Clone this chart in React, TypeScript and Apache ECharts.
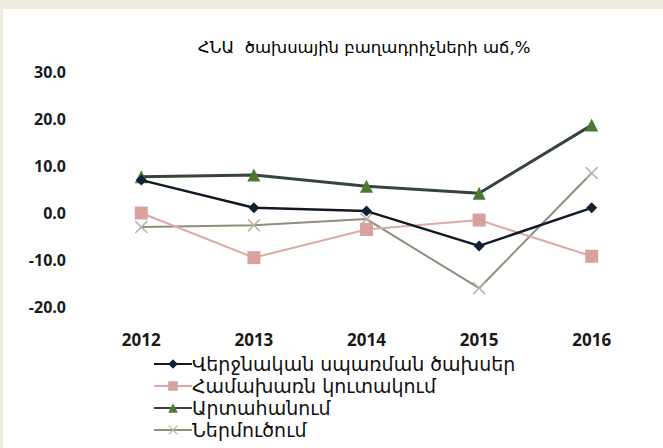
import React, { useEffect, useRef } from "react";
import * as echarts from "echarts";

const years = ["2012", "2013", "2014", "2015", "2016"];
const finalConsumption = [7.0, 1.1, 0.4, -7.0, 1.1];
const grossCapital = [0.0, -9.5, -3.5, -1.5, -9.2];
const exportsGrowth = [7.7, 8.1, 5.7, 4.2, 18.7];
const importsGrowth = [-3.0, -2.6, -1.3, -16.0, 8.5];
const seriesNames = [
  "Վերջնական սպառման ծախսեր",
  "Համախառն կուտակում",
  "Արտահանում",
  "Ներմուծում",
];
const titleText = "ՀՆԱ  ծախսային բաղադրիչների աճ,%";

const xPath =
  "path://M1,0 L6,5 L11,0 L12,1 L7,6 L12,11 L11,12 L6,7 L1,12 L0,11 L5,6 L0,1 Z";

export default function App() {
  const ref = useRef<HTMLDivElement>(null);
  useEffect(() => {
    if (!ref.current) return;
    const chart = echarts.init(ref.current, undefined, { renderer: "svg" });
    chart.setOption({
      animation: false,
      backgroundColor: "#ffffff",
      title: {
        text: titleText,
        left: 356,
        top: 25,
        textAlign: "center",
        textStyle: {
          fontFamily: "DejaVu Sans",
          fontSize: 16.5,
          fontWeight: "normal",
          color: "#000",
        },
      },
      grid: { left: 82, right: 15, top: 63, height: 235, containLabel: false },
      xAxis: {
        type: "category",
        data: years,
        boundaryGap: true,
        axisLine: { show: false },
        axisTick: { show: false },
        axisLabel: {
          margin: 24,
          fontFamily: "Open Sans",
          fontWeight: "bold",
          fontSize: 17,
          color: "#1a1a1a",
        },
      },
      yAxis: {
        type: "value",
        min: -20,
        max: 30,
        interval: 10,
        splitLine: { show: false },
        axisLine: { show: false },
        axisTick: { show: false },
        axisLabel: {
          margin: 19,
          fontFamily: "Open Sans",
          fontWeight: "bold",
          fontSize: 16,
          color: "#1a1a1a",
          formatter: (v: number) => v.toFixed(1),
        },
      },
      legend: {
        orient: "vertical",
        left: 145,
        top: 339,
        itemWidth: 38,
        itemHeight: 12,
        itemGap: 0,
        textStyle: {
          fontFamily: "DejaVu Sans",
          fontSize: 19,
          lineHeight: 22,
          color: "#111",
          padding: [0, 0, 0, -5],
        },
        data: seriesNames,
      },
      series: [
        {
          name: seriesNames[0],
          type: "line",
          data: finalConsumption,
          symbol: "diamond",
          symbolSize: 11,
          lineStyle: { color: "#111a24", width: 2.5 },
          itemStyle: { color: "#0f2235" },
          z: 4,
        },
        {
          name: seriesNames[1],
          type: "line",
          data: grossCapital,
          symbol: "rect",
          symbolSize: 13,
          lineStyle: { color: "#dcaaa6", width: 2 },
          itemStyle: { color: "#d9a19c" },
          z: 2,
        },
        {
          name: seriesNames[2],
          type: "line",
          data: exportsGrowth,
          symbol: "triangle",
          symbolSize: 13,
          lineStyle: { color: "#36453a", width: 3 },
          itemStyle: { color: "#4d7a30" },
          z: 3,
        },
        {
          name: seriesNames[3],
          type: "line",
          data: importsGrowth,
          symbol: xPath,
          symbolSize: 13,
          lineStyle: { color: "#8f8f7e", width: 2 },
          itemStyle: { color: "#b3b3aa" },
          z: 1,
        },
      ],
    });
    return () => chart.dispose();
  }, []);
  return (
    <div
      style={{
        position: "absolute",
        left: 0,
        top: 0,
        width: 663,
        height: 448,
        background: "#eeebe0",
        overflow: "hidden",
      }}
    >
      <div
        ref={ref}
        style={{
          position: "absolute",
          left: 3,
          top: 9,
          width: 660,
          height: 439,
          background: "#ffffff",
        }}
      />
    </div>
  );
}
